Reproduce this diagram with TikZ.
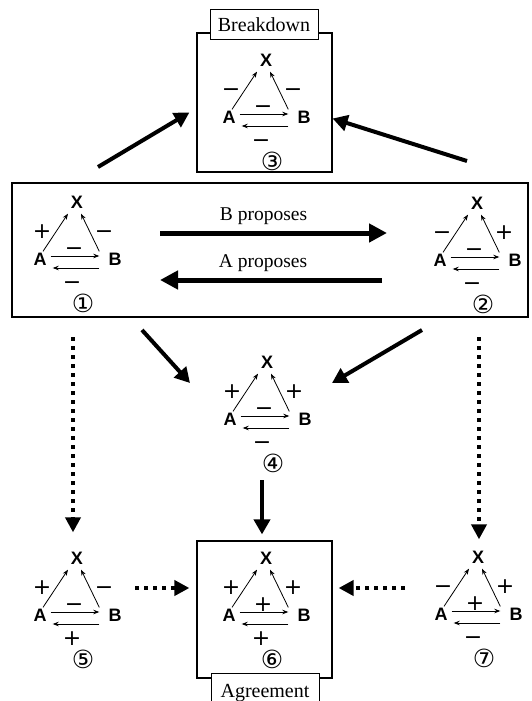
\documentclass[tikz,border=0pt]{standalone}
\usepackage{fontspec}
\setmainfont{Liberation Serif}
\newfontfamily\lettfont{Liberation Sans}
\newfontfamily\signfont{DejaVu Sans}
\usepackage{tikz}
\usetikzlibrary{arrows.meta, positioning, calc}

\begin{document}
\begin{tikzpicture}[x=1pt, y=-1pt,
    letter/.style={font=\lettfont\bfseries\fontsize{18}{18}\selectfont, inner sep=1pt, text height=12.9pt, text depth=0pt},
    sign/.style={font=\signfont\fontsize{22}{22}\selectfont, inner sep=0pt, text height=14pt, text depth=0pt},
    circnum/.style={font=\signfont\fontsize{25}{25}\selectfont, inner sep=0pt},
    lab/.style={font=\fontsize{19.5}{19.5}\selectfont},
    smallarrow/.style={line width=0.8pt, -{Stealth[length=6pt,width=4.5pt]}},
    bigarrow/.style={line width=4pt, -{Triangle[length=15pt,width=16pt]}},
    proparrow/.style={line width=5pt, -{Triangle[length=18pt,width=18pt]}},
    dotarrow/.style={line width=4pt, dash pattern=on 4pt off 5pt, -{Triangle[length=15pt,width=15pt]}},
    frame/.style={draw, line width=1.2pt, inner sep=0pt},
    tab/.style={draw, fill=white, line width=1pt, font=\fontsize{20}{20}\selectfont, inner sep=0pt}
]
\useasboundingbox (0,0) rectangle (531,701);

% One triad: name, position of X, left, right, middle, bottom sign, number
\def\triad#1#2#3#4#5#6#7{
  \begin{scope}[shift={(#2)}]
    \node[letter] (#1x) at (0,0) {X};
    \node[letter] (#1a) at (-37,57) {A};
    \node[letter] (#1b) at (38,57) {B};
    \node[sign] (#1l) at (-35,29) {#3};
    \node[sign] (#1r) at (27,29) {#4};
    \node[sign] (#1m) at (-3,46) {#5};
    \node[sign] (#1d) at (-5,80) {#6};
    \node[circnum] (#1n) at (6,101) {#7};
    \draw[smallarrow] ([xshift=3pt]#1a.north) -- ([shift={(-9pt,-4pt)}]#1x.south);
    \draw[smallarrow] ([xshift=-8pt]#1b.north west) -- ([shift={(4pt,-4pt)}]#1x.south);
    \draw[smallarrow] ([shift={(3pt,3pt)}]#1a.east) -- ([shift={(-8pt,3pt)}]#1b.west);
    \draw[smallarrow] ([shift={(-8pt,-9pt)}]#1b.west) -- ([shift={(5pt,-9pt)}]#1a.east);
  \end{scope}
}

% Frames
\node[frame, minimum width=516pt, minimum height=134pt] (mbox) at (270,250) {};
\node[frame, minimum width=135pt, minimum height=139pt] (brk) at (264.5,102.5) {};
\node[tab, minimum width=108pt, minimum height=30pt] (brklab) at (264,25) {Breakdown};
\node[frame, minimum width=135pt, minimum height=137pt] (agr) at (264.5,609.5) {};
\node[tab, minimum width=108pt, minimum height=40pt] (agrlab) at (265,693) {Agreement};

% Triads
\triad{t1}{77,202}{+}{−}{−}{−}{①}
\triad{t2}{477,203}{−}{+}{−}{−}{②}
\triad{t3}{266,60}{−}{−}{−}{−}{③}
\triad{t4}{267,362}{+}{+}{−}{−}{④}
\triad{t5}{77,558}{+}{−}{−}{+}{⑤}
\triad{t6}{266,558}{+}{+}{+}{+}{⑥}
\triad{t7}{478,557}{−}{+}{+}{−}{⑦}

% Proposals
\coordinate (bpfrom) at (160,233);
\coordinate (bpto) at (387,233);
\coordinate (apfrom) at (382,280);
\coordinate (apto) at (160,280);
\draw[proparrow] (bpfrom) -- (bpto) node[lab, midway, above=3pt, xshift=-10pt] (bplab) {B proposes};
\draw[proparrow] (apfrom) -- (apto) node[lab, midway, above=3pt, xshift=-8pt] (aplab) {A proposes};

% To breakdown
\coordinate (brkl) at (98,167);
\coordinate (brkr) at (467,161);
\draw[bigarrow] (brkl) -- ([shift={(-7pt,-10pt)}]brk.west);
\draw[bigarrow] (brkr) -- ([yshift=-16pt]brk.east);

% To triad 4 and on to agreement
\coordinate (m4l) at (142,330);
\coordinate (m4r) at (422,330);
\coordinate (e4l) at (190,383);
\coordinate (e4r) at (332,383);
\coordinate (d4) at (262,480);
\draw[bigarrow] (m4l) -- (e4l);
\draw[bigarrow] (m4r) -- (e4r);
\draw[bigarrow] (d4) -- ([shift={(-2.5pt,6pt)}]agr.north);

% Dotted paths
\coordinate (v5) at (73,337);
\coordinate (v7) at (479,337);
\coordinate (h5) at (135,588);
\coordinate (h7) at (405,588);
\draw[dotarrow] (v5) -- ([shift={(-4pt,18pt)}]t5x.north);
\draw[dotarrow] (v7) -- ([shift={(1pt,10pt)}]t7x.north);
\draw[dotarrow] (h5) -- ([shift={(-7pt,21.5pt)}]agr.west);
\draw[dotarrow] (h7) -- ([shift={(6pt,21.5pt)}]agr.east);

\end{tikzpicture}
\end{document}
